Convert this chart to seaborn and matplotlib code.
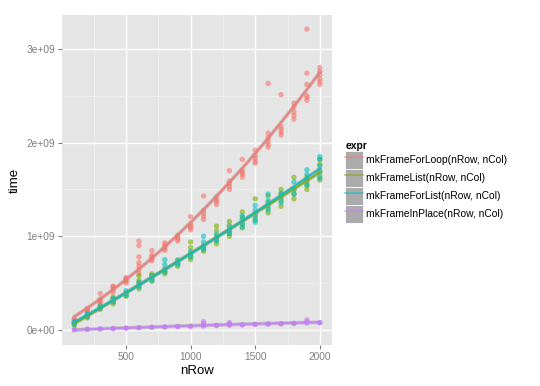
import matplotlib
matplotlib.use("Agg")
import matplotlib.pyplot as plt
import seaborn as sns
import pandas as pd
from matplotlib.lines import Line2D
from matplotlib.patches import Rectangle
from matplotlib.ticker import FuncFormatter, MultipleLocator

# benchmark times in units of 1e9, replicate values per nRow
n_rows = [100, 200, 300, 400, 500, 600, 700, 800, 900, 1000,
          1100, 1200, 1300, 1400, 1500, 1600, 1700, 1800, 1900, 2000]

for_loop = [
    [0.08, 0.10, 0.11, 0.12], [0.19, 0.21, 0.22, 0.23], [0.28, 0.30, 0.32, 0.33, 0.39],
    [0.40, 0.43, 0.45, 0.46, 0.47], [0.50, 0.52, 0.53, 0.55, 0.56],
    [0.60, 0.64, 0.68, 0.72, 0.78, 0.90, 0.95], [0.74, 0.76, 0.78, 0.80, 0.85],
    [0.85, 0.87, 0.89, 0.91, 0.93], [0.95, 0.97, 0.99, 1.01], [1.07, 1.09, 1.11, 1.13, 1.21],
    [1.18, 1.21, 1.24, 1.27, 1.43], [1.34, 1.37, 1.39, 1.42], [1.50, 1.53, 1.56, 1.59, 1.70],
    [1.63, 1.66, 1.68, 1.70, 1.82], [1.78, 1.80, 1.83, 1.86, 1.92],
    [1.95, 1.98, 2.01, 2.05, 2.10, 2.63], [2.08, 2.11, 2.14, 2.17, 2.51],
    [2.25, 2.29, 2.33, 2.38, 2.42], [2.45, 2.48, 2.50, 2.62, 2.74, 3.21],
    [2.62, 2.65, 2.68, 2.72, 2.76, 2.80],
]
frame_list = [
    [0.05, 0.07, 0.08], [0.13, 0.15, 0.17], [0.22, 0.24, 0.26], [0.28, 0.30, 0.33, 0.35],
    [0.36, 0.38, 0.40], [0.44, 0.47, 0.50, 0.53, 0.58], [0.52, 0.55, 0.58, 0.60],
    [0.60, 0.62, 0.65], [0.68, 0.71, 0.74], [0.75, 0.78, 0.82, 0.88, 0.94],
    [0.84, 0.87, 0.90], [0.92, 0.96, 1.00, 1.06, 1.11], [1.00, 1.03, 1.07, 1.12, 1.16],
    [1.09, 1.13, 1.20, 1.26], [1.17, 1.22, 1.40], [1.25, 1.30, 1.36, 1.43],
    [1.32, 1.38, 1.45, 1.50], [1.40, 1.45, 1.50, 1.63], [1.50, 1.54, 1.58, 1.63],
    [1.60, 1.64, 1.70, 1.77, 1.82],
]
for_list = [
    [0.06, 0.08, 0.09], [0.14, 0.16, 0.17], [0.23, 0.25], [0.30, 0.32, 0.34],
    [0.37, 0.39, 0.42], [0.46, 0.48, 0.51], [0.53, 0.56, 0.58], [0.62, 0.65, 0.70, 0.75],
    [0.70, 0.72, 0.75], [0.78, 0.81, 0.84], [0.86, 0.89, 0.94, 1.00], [0.95, 0.98, 1.02],
    [1.03, 1.06, 1.10], [1.10, 1.14, 1.18, 1.22], [1.15, 1.19, 1.24, 1.28, 1.33],
    [1.28, 1.33, 1.38, 1.45], [1.36, 1.41, 1.46], [1.45, 1.50, 1.58],
    [1.55, 1.60, 1.66, 1.71], [1.62, 1.68, 1.75, 1.82, 1.85],
]
in_place = [
    [0.004, 0.006], [0.008, 0.010], [0.012, 0.014], [0.016, 0.018], [0.020, 0.022],
    [0.024, 0.026], [0.028, 0.030], [0.032, 0.034], [0.036, 0.040], [0.040, 0.042],
    [0.042, 0.055, 0.075, 0.090], [0.048, 0.050], [0.052, 0.060, 0.070, 0.080],
    [0.056, 0.058], [0.060, 0.062], [0.064, 0.066], [0.066, 0.068], [0.070, 0.072],
    [0.074, 0.090, 0.110], [0.078, 0.080],
]

expr_names = ["mkFrameForLoop(nRow, nCol)", "mkFrameList(nRow, nCol)",
              "mkFrameForList(nRow, nCol)", "mkFrameInPlace(nRow, nCol)"]
colors = ["#F8766D", "#7CAE00", "#00BFC4", "#C77CFF"]

rows = []
for name, series in zip(expr_names, [for_loop, frame_list, for_list, in_place]):
    for n, vals in zip(n_rows, series):
        for v in vals:
            rows.append({"nRow": n, "time": v * 1e9, "expr": name})
df = pd.DataFrame(rows)
palette = dict(zip(expr_names, colors))

plt.rcParams["font.family"] = ["Liberation Sans", "DejaVu Sans"]
fig = plt.figure(figsize=(5.4, 3.86), dpi=100)
ax = fig.add_axes([0.115, 0.106, 0.50, 0.855])
ax.set_facecolor("#E5E5E5")

sns.scatterplot(data=df, x="nRow", y="time", hue="expr", palette=palette,
                s=15, alpha=0.6, linewidth=0, legend=False, ax=ax, zorder=3)

# smooth trend per expression (grey underlay like the ribbon, coloured line on top)
for name, c in zip(expr_names, colors):
    sub = df[df["expr"] == name]
    sns.regplot(data=sub, x="nRow", y="time", order=2, ci=None, scatter=False, ax=ax,
                line_kws={"color": "#9A9A9A", "linewidth": 2.8, "alpha": 0.45, "zorder": 4})
    sns.regplot(data=sub, x="nRow", y="time", order=2, ci=None, scatter=False, ax=ax,
                line_kws={"color": c, "linewidth": 1.5, "alpha": 0.85, "zorder": 5})

ax.set_xlim(5, 2095)
ax.set_ylim(-0.16e9, 3.36e9)
ax.set_xticks([500, 1000, 1500, 2000])
ax.set_yticks([0, 1e9, 2e9, 3e9])
ax.xaxis.set_minor_locator(MultipleLocator(250))
ax.yaxis.set_minor_locator(MultipleLocator(0.5e9))
ax.yaxis.set_major_formatter(FuncFormatter(lambda v, p: "%de+%02d" % (round(v / 1e9), 9 if v else 0)))
ax.grid(which="major", color="white", linewidth=1.0)
ax.grid(which="minor", color="#F2F2F2", linewidth=0.5)
ax.set_axisbelow(True)
for s in ax.spines.values():
    s.set_visible(False)
ax.tick_params(which="major", length=3, color="#7F7F7F", labelcolor="#7F7F7F", labelsize=7.3, pad=2)
ax.tick_params(which="minor", length=0)
ax.set_xlabel("nRow", fontsize=9.5, labelpad=2)
ax.set_ylabel("time", fontsize=9.5, labelpad=4)

handles = [(Rectangle((0, 0), 1, 1, facecolor="#ABABAB", edgecolor="white", linewidth=0.6),
            Line2D([], [], color=c, linewidth=1.2, alpha=0.6)) for c in colors]
leg = fig.legend(handles, expr_names, loc="upper left", bbox_to_anchor=(0.632, 0.645),
                 title="expr", frameon=False, fontsize=7.4, title_fontsize=7.4,
                 handlelength=1.75, handleheight=2.3, labelspacing=0.0,
                 handletextpad=0.3, borderaxespad=0)
leg.get_title().set_fontweight("bold")
leg._legend_box.align = "left"

fig.savefig("out.png", dpi=100)
